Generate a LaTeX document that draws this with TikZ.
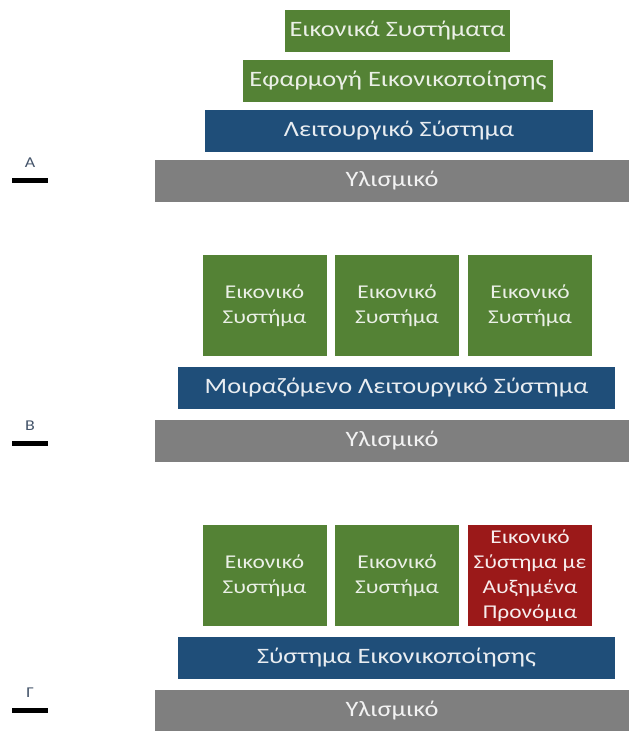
\documentclass[tikz,border=0pt]{standalone}
\usepackage{fontspec}
\setmainfont{Carlito}[FakeStretch=1.2]
\definecolor{vmgreen}{RGB}{84,130,53}
\definecolor{osblue}{RGB}{31,78,121}
\definecolor{hwgray}{RGB}{127,127,127}
\definecolor{privred}{RGB}{155,25,25}
\definecolor{tagcol}{RGB}{68,84,106}
\tikzset{
  layer/.style={inner sep=0pt, minimum height=42pt, font=\fontsize{22}{26}\selectfont},
  greenlayer/.style={layer, fill=vmgreen, text=vmgreen!12},
  bluelayer/.style={layer, fill=osblue, text=osblue!10},
  graylayer/.style={layer, fill=hwgray, text=white!95!black, minimum width=474pt},
  vmbox/.style={inner sep=0pt, minimum width=124pt, minimum height=101pt, align=center,
    fill=vmgreen, text=vmgreen!12, font=\fontsize{19.5}{25}\selectfont},
  tagbar/.style={fill=black, inner sep=0pt, minimum width=36pt, minimum height=5pt},
  tagtext/.style={text=tagcol, font=\fontsize{15}{17}\selectfont}
}
\begin{document}
\begin{tikzpicture}[x=1pt,y=-1pt]
\useasboundingbox (0,0) rectangle (629,731);

% A: hosted
\node[greenlayer, minimum width=225pt] (vmsA) at (397.5,31) {Εικονικά Συστήματα};
\node[greenlayer, minimum width=310pt] (appA) at (398,81) {Εφαρμογή Εικονικοποίησης};
\node[bluelayer, minimum width=388pt] (osA) at (399,131) {Λειτουργικό Σύστημα};
\node[graylayer] (hwA) at (392,181) {Υλισμικό};
\node[tagbar] (barA) at (30,180) {};
\node[tagtext] (tagA) at (30,163) {Α};

% B: shared OS
\foreach \x/\n in {264.5/1, 397/2, 530/3}
  \node[vmbox] (vmB\n) at (\x,305.5) {Εικονικό\\Συστήμα};
\node[bluelayer, minimum width=437pt] (osB) at (396.5,388) {Μοιραζόμενο Λειτουργικό Σύστημα};
\node[graylayer] (hwB) at (392,441) {Υλισμικό};
\node[tagbar] (barB) at (30,443) {};
\node[tagtext] (tagB) at (30,426) {Β};

% C: hypervisor
\node[vmbox] (vmC1) at (264.5,575.5) {Εικονικό\\Συστήμα};
\node[vmbox] (vmC2) at (397,575.5) {Εικονικό\\Συστήμα};
\node[vmbox, fill=privred, text=privred!8] (vmC3) at (530,575.5) {Εικονικό\\Σύστημα με\\Αυξημένα\\Προνόμια};
\node[bluelayer, minimum width=437pt] (hypC) at (396.5,657.5) {Σύστημα Εικονικοποίησης};
\node[graylayer, minimum height=41pt] (hwC) at (392,710.5) {Υλισμικό};
\node[tagbar] (barC) at (30,710) {};
\node[tagtext] (tagC) at (30,693) {Γ};
\end{tikzpicture}
\end{document}
